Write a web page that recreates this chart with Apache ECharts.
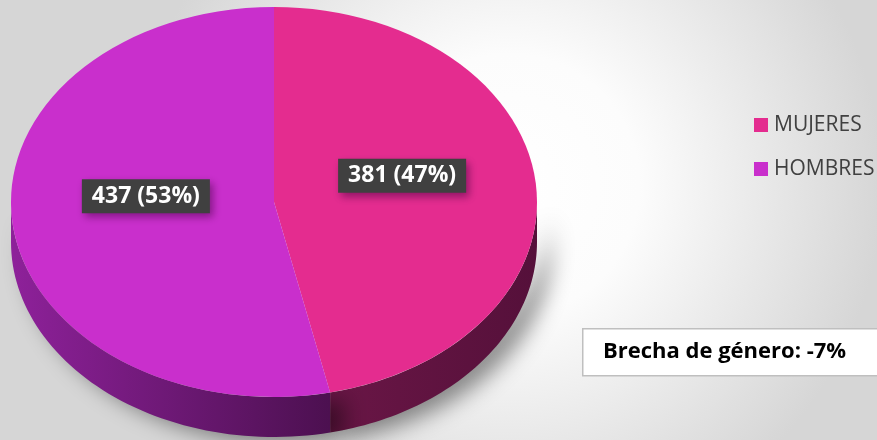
<!DOCTYPE html>
<html>
<head>
<meta charset="utf-8">
<script src="https://cdn.jsdelivr.net/npm/echarts@6/dist/echarts.min.js"></script>
<style>
  html, body { margin: 0; padding: 0; }
  #chart { width: 877px; height: 440px; }
</style>
</head>
<body>
<div id="chart"></div>
<script>
  // datos
  const categories = ['MUJERES', 'HOMBRES']
  const values = [381, 437]
  const topColors = ['#e42c8f', '#c92fcc']
  const sideColors = [['#6a1646', '#55103a'], ['#8e219a', '#4c1050']]
  const gapText = 'Brecha de género: -7%'

  const total = values.reduce((a, b) => a + b, 0)

  // geometría de la tarta
  const cx = 274, cy = 202, rx = 263, ry = 195, depth = 40

  const angleRange = (idx) => {
    let start = -Math.PI / 2
    for (let i = 0; i < idx; i++) start += values[i] / total * Math.PI * 2
    return [start, start + values[idx] / total * Math.PI * 2]
  }

  const pt = (a, dy) => [cx + rx * Math.cos(a), cy + ry * Math.sin(a) + (dy || 0)]

  // cara lateral visible (mitad frontal)
  const renderSide = (params, api) => {
    const idx = params.dataIndex
    let [a0, a1] = angleRange(idx)
    a0 = Math.max(a0, 0)
    a1 = Math.min(a1, Math.PI)
    if (a1 <= a0) return
    const pts = []
    const n = 60
    for (let i = 0; i <= n; i++) pts.push(pt(a0 + (a1 - a0) * i / n))
    for (let i = n; i >= 0; i--) pts.push(pt(a0 + (a1 - a0) * i / n, depth))
    return {
      type: 'polygon',
      shape: { points: pts },
      style: {
        fill: new echarts.graphic.LinearGradient(0, 0, 1, 0, [
          { offset: 0, color: sideColors[idx][0] },
          { offset: 1, color: sideColors[idx][1] }
        ]),
        shadowBlur: 22,
        shadowColor: 'rgba(0,0,0,0.45)',
        shadowOffsetX: 14,
        shadowOffsetY: 6
      }
    }
  }

  // cara superior con etiqueta
  const renderTop = (params, api) => {
    const idx = params.dataIndex
    const [a0, a1] = angleRange(idx)
    const mid = (a0 + a1) / 2
    const v = api.value(0)
    const pct = Math.round(v / total * 100)
    return {
      type: 'group',
      children: [
        {
          type: 'sector',
          x: cx, y: cy,
          scaleY: ry / rx,
          shape: { cx: 0, cy: 0, r: rx, r0: 0, startAngle: a0, endAngle: a1, clockwise: true },
          style: { fill: topColors[idx] }
        },
        {
          type: 'text',
          x: cx + 0.49 * rx * Math.cos(mid),
          y: cy + 0.49 * ry * Math.sin(mid) - 16,
          style: {
            text: v + ' (' + pct + '%)',
            fill: '#fff',
            font: 'bold 23px "Open Sans", sans-serif',
            align: 'center',
            verticalAlign: 'middle',
            backgroundColor: '#404040',
            padding: [6, 10, 5, 10],
            shadowBlur: 8,
            shadowOffsetX: 3,
            shadowOffsetY: 4,
            shadowColor: 'rgba(60,0,60,0.5)'
          }
        }
      ]
    }
  }

  // leyenda dibujada a mano (la serie custom no genera entradas por dato)
  const legendItems = []
  categories.forEach((c, i) => {
    legendItems.push({
      type: 'rect', x: 754, y: 118 + i * 44,
      shape: { width: 14, height: 14 },
      style: { fill: topColors[i] }
    })
    legendItems.push({
      type: 'text', x: 774, y: 125 + i * 44,
      style: { text: c, fill: '#404040', font: '21px "Open Sans", sans-serif', verticalAlign: 'middle' }
    })
  })

  const chart = echarts.init(document.getElementById('chart'))
  chart.setOption({
    backgroundColor: {
      type: 'radial', x: 0.58, y: 0.42, r: 0.85,
      colorStops: [
        { offset: 0, color: '#ffffff' },
        { offset: 0.35, color: '#fcfcfc' },
        { offset: 1, color: '#d6d6d6' }
      ]
    },
    animation: false,
    graphic: legendItems.concat([
      {
        type: 'rect',
        left: 582, top: 328,
        shape: { width: 300, height: 47 },
        style: { fill: '#fff', stroke: '#bfbfbf', lineWidth: 1.5 }
      },
      {
        type: 'text',
        x: 603, y: 352,
        style: { text: gapText, fill: '#000', font: 'bold 22px "Open Sans", sans-serif', verticalAlign: 'middle' }
      }
    ]),
    series: [
      {
        type: 'custom',
        coordinateSystem: 'none',
        renderItem: renderSide,
        data: values.map((v, i) => ({ name: categories[i], value: [v] })),
        silent: true
      },
      {
        type: 'custom',
        coordinateSystem: 'none',
        renderItem: renderTop,
        data: values.map((v, i) => ({ name: categories[i], value: [v] })),
        silent: true
      }
    ]
  })
  window.addEventListener('resize', () => chart.resize())
</script>
</body>
</html>
